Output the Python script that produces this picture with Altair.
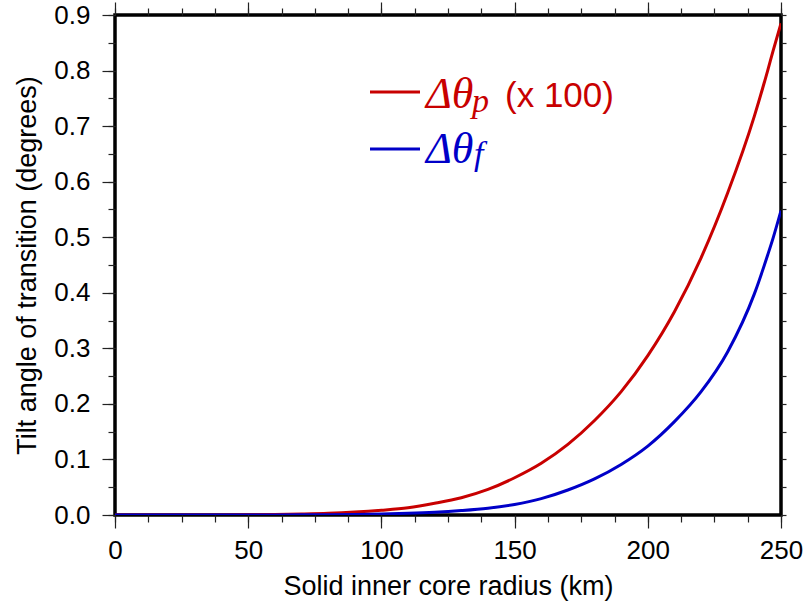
import altair as alt
import pandas as pd

# ---- data ----
radius_km = [0, 10, 20, 30, 40, 50, 60, 70, 80, 90, 100, 110, 120, 130, 140,
             150, 160, 170, 180, 190, 200, 210, 220, 230, 240, 245, 247, 250]
dtheta_p_x100 = [0, 0, 0, 0.0001, 0.0002, 0.0005, 0.0010, 0.0018, 0.0030, 0.0052,
                 0.0085, 0.013, 0.021, 0.031, 0.046, 0.067, 0.093, 0.127, 0.170,
                 0.222, 0.287, 0.366, 0.463, 0.580, 0.718, 0.800, 0.835, 0.885]
dtheta_f = [0, 0, 0, 0, 0, 0, 0.0001, 0.0003, 0.0006, 0.0011, 0.0019, 0.0031,
            0.0050, 0.0080, 0.0122, 0.0190, 0.0295, 0.045, 0.065, 0.091, 0.124,
            0.168, 0.222, 0.294, 0.398, 0.468, 0.498, 0.548]

x_major = [0, 50, 100, 150, 200, 250]
x_minor = [0, 12.5, 25, 37.5, 50, 62.5, 75, 87.5, 100, 112.5, 125, 137.5, 150,
           162.5, 175, 187.5, 200, 212.5, 225, 237.5, 250]
y_major = [0.0, 0.1, 0.2, 0.3, 0.4, 0.5, 0.6, 0.7, 0.8, 0.9]
y_minor = [0.0, 0.05, 0.1, 0.15, 0.2, 0.25, 0.3, 0.35, 0.4, 0.45, 0.5, 0.55,
           0.6, 0.65, 0.7, 0.75, 0.8, 0.85, 0.9]

RED = "#c80000"
BLUE = "#0000c8"
SANS = "Liberation Sans"
SERIF = "Liberation Serif"

df = pd.DataFrame({"r": radius_km, "p": dtheta_p_x100, "f": dtheta_f})

xs = alt.Scale(domain=[0, 250], nice=False, zero=False)
ys = alt.Scale(domain=[0, 0.9], nice=False, zero=False)

common_axis = dict(domain=False, grid=False, tickColor="#222", tickWidth=1.2,
                   labelFont=SANS, labelColor="black", titleFont=SANS,
                   titleColor="black", titleFontWeight="normal",
                   labelFlush=False, labelOverlap=False)

base = alt.Chart(df)

red = base.mark_line(color=RED, strokeWidth=3, clip=True,
                     interpolate="monotone").encode(
    x=alt.X("r:Q", scale=xs, axis=alt.Axis(
        orient="bottom", values=x_major, tickSize=13, labelFontSize=26,
        labelPadding=9, title="Solid inner core radius (km)", titleFontSize=27,
        titlePadding=10, format="d", **common_axis)),
    y=alt.Y("p:Q", scale=ys, axis=alt.Axis(
        orient="left", values=y_major, tickSize=13, labelFontSize=26,
        labelPadding=12, format=".1f", title="Tilt angle of transition (degrees)",
        titleFontSize=27, titlePadding=12, **common_axis)),
)

blue = base.mark_line(color=BLUE, strokeWidth=3, clip=True,
                      interpolate="monotone").encode(
    x=alt.X("r:Q", scale=xs, axis=alt.Axis(
        orient="bottom", values=x_minor, tickSize=7, labels=False, title=None,
        **common_axis)),
    y=alt.Y("f:Q", scale=ys, axis=alt.Axis(
        orient="left", values=y_minor, tickSize=7, labels=False, title=None,
        **common_axis)),
)

top_major = base.mark_line(opacity=0).encode(
    x=alt.X("r:Q", scale=xs, axis=alt.Axis(
        orient="top", values=x_major, tickSize=13, labels=False, title=None,
        **common_axis)),
    y=alt.Y("f:Q", scale=ys, axis=alt.Axis(
        orient="right", values=y_minor, tickSize=5, labels=False, title=None,
        **common_axis)),
)

top_minor = base.mark_line(opacity=0).encode(
    x=alt.X("r:Q", scale=xs, axis=alt.Axis(
        orient="top", values=x_minor, tickSize=7, labels=False, title=None,
        **common_axis)),
    y=alt.Y("f:Q", scale=ys, axis=None),
)

# ---- legend ----
leg = pd.DataFrame({"k": [0]})
leg_red = alt.Chart(leg).mark_rule(color=RED, strokeWidth=3).encode(
    x=alt.value(255), x2=alt.value(305), y=alt.value(77))
leg_blue = alt.Chart(leg).mark_rule(color=BLUE, strokeWidth=3).encode(
    x=alt.value(255), x2=alt.value(305), y=alt.value(134))

def txt(s, x, y, color, font, size, style="normal"):
    return alt.Chart(leg).mark_text(
        text=s, align="left", baseline="alphabetic", color=color, font=font,
        fontSize=size, fontStyle=style).encode(x=alt.value(x), y=alt.value(y))

legend = [
    leg_red, leg_blue,
    txt("Δθ", 311, 93, RED, SERIF, 44, "italic"),
    txt("p", 357, 97, RED, SERIF, 34, "italic"),
    txt("(x 100)", 390, 92, RED, SANS, 35),
    txt("Δθ", 311, 148, BLUE, SERIF, 44, "italic"),
    txt("f", 359, 150, BLUE, SERIF, 34, "italic"),
]

chart = alt.layer(red, blue, top_major, top_minor, *legend).resolve_axis(
    x="independent", y="independent"
).properties(
    width=666, height=500,
    padding={"left": 115, "top": 15, "right": 24, "bottom": 93},
    autosize=alt.AutoSizeParams(type="none"),
    background="white",
).configure_view(stroke="black", strokeWidth=3.5)

chart.save("out.html", embed_options={"renderer": "svg", "actions": False})
